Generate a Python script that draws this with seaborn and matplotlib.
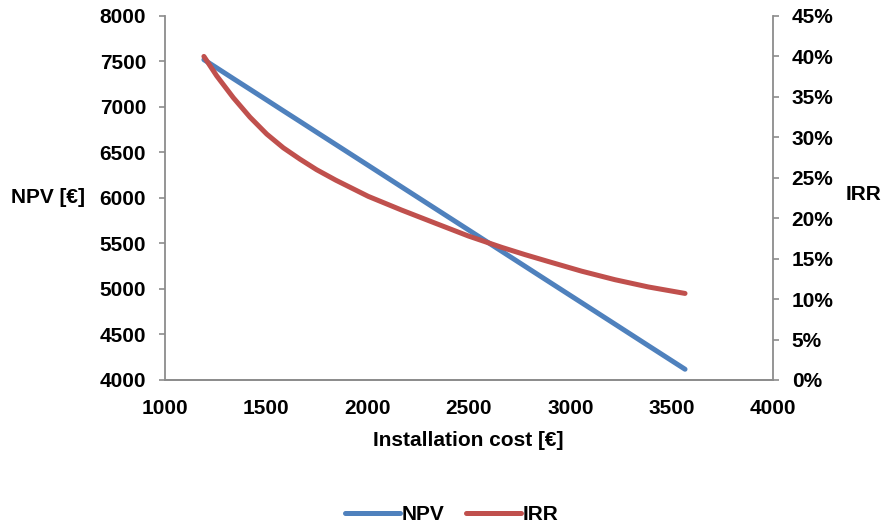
import matplotlib
matplotlib.use("Agg")
import matplotlib.pyplot as plt
from matplotlib.ticker import PercentFormatter, MultipleLocator
from matplotlib.lines import Line2D
import seaborn as sns
import pandas as pd

# Installation cost scenarios [€]
cost = [1192, 1255, 1337, 1419, 1502, 1584, 1666, 1748, 1843, 2003,
        2168, 2332, 2497, 2661, 2776, 2891, 3056, 3220, 3385, 3566]
# Net present value [€]
npv = [7520, 7430, 7312, 7195, 7076, 6958, 6841, 6723, 6587, 6358,
       6121, 5886, 5650, 5415, 5250, 5085, 4849, 4614, 4377, 4118]
# Internal rate of return (fraction)
irr = [0.400, 0.376, 0.349, 0.325, 0.304, 0.287, 0.273, 0.260, 0.247, 0.227,
       0.210, 0.194, 0.178, 0.164, 0.155, 0.1465, 0.1345, 0.124, 0.115, 0.107]

df = pd.DataFrame({"cost": cost, "NPV": npv, "IRR": irr})

BLUE = "#4F81BD"
RED = "#C0504D"
SPINE = "#8C8C8C"
FS = 15

sns.set_theme(style="white")
plt.rcParams["font.family"] = ["Liberation Sans", "DejaVu Sans"]
plt.rcParams["font.weight"] = "bold"
plt.rcParams["text.color"] = "black"
plt.rcParams["axes.labelcolor"] = "black"

fig = plt.figure(figsize=(8.89, 5.26), dpi=100)
ax = fig.add_axes([0.1856, 0.2776, 0.6839, 0.692])
ax2 = ax.twinx()

sns.lineplot(data=df, x="cost", y="NPV", ax=ax, color=BLUE, linewidth=3.6,
             solid_capstyle="round", legend=False)
sns.lineplot(data=df, x="cost", y="IRR", ax=ax2, color=RED, linewidth=3.6,
             solid_capstyle="round", solid_joinstyle="round", legend=False)

ax.set_xlim(1000, 4000)
ax.set_ylim(4000, 8000)
ax2.set_ylim(0, 0.45)
ax.xaxis.set_major_locator(MultipleLocator(500))
ax.yaxis.set_major_locator(MultipleLocator(500))
ax2.yaxis.set_major_locator(MultipleLocator(0.05))
ax2.yaxis.set_major_formatter(PercentFormatter(1.0, decimals=0))

for a in (ax, ax2):
    for side, sp in a.spines.items():
        sp.set_color(SPINE)
        sp.set_linewidth(1.3)
    a.spines["top"].set_visible(False)
    a.tick_params(labelsize=FS, colors=SPINE, labelcolor="black",
                  length=4, width=1.2, pad=9.5)
    for lab in a.get_xticklabels() + a.get_yticklabels():
        lab.set_fontweight("bold")

ax.tick_params(axis="x", direction="inout", length=6, pad=11)
ax.tick_params(axis="y", direction="out", left=True)
ax2.tick_params(axis="y", direction="out", right=True)
ax2.spines["left"].set_visible(False)
ax.spines["right"].set_visible(False)

ax.set_xlabel("Installation cost [€]", fontsize=FS, fontweight="bold")
ax.xaxis.set_label_coords(0.498, -0.165)
ax.xaxis.label.set_va("center")

ax.set_ylabel("NPV [€]", fontsize=FS, fontweight="bold", rotation=0,
              ha="right", va="center")
ax.yaxis.set_label_coords(-0.131, 0.5)
ax2.set_ylabel("IRR", fontsize=FS, fontweight="bold", rotation=0,
               ha="left", va="center")
ax2.yaxis.set_label_coords(1.12, 0.51)

handles = [Line2D([], [], color=BLUE, linewidth=3.6, solid_capstyle="round"),
           Line2D([], [], color=RED, linewidth=3.6, solid_capstyle="round")]
leg = fig.legend(handles, ["NPV", "IRR"], loc="center",
                 bbox_to_anchor=(0.508, 0.021), ncol=2, frameon=False,
                 handlelength=2.65, handletextpad=0.1, columnspacing=1.0,
                 prop={"size": FS, "weight": "bold"})

fig.savefig("out.png", dpi=100)
